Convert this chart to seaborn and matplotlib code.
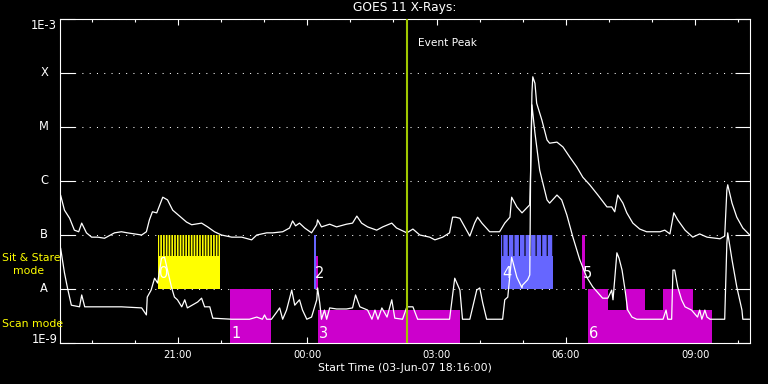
import numpy as np
import pandas as pd
import seaborn as sns
from matplotlib import pyplot as plt
from matplotlib.ticker import FixedLocator, NullLocator

# GOES 11 X-ray flux, hours after 00:00 on 03-Jun-07, log10(W/m^2)
long_t = [18.28, 18.37, 18.49, 18.60, 18.70, 18.77, 18.88, 19.00, 19.14, 19.30,
          19.53, 19.69, 19.83, 20.16, 20.27, 20.34, 20.41, 20.51, 20.65, 20.76,
          20.88, 21.04, 21.20, 21.32, 21.55, 21.69, 21.85, 22.01, 22.25, 22.48,
          22.71, 22.83, 23.06, 23.20, 23.43, 23.59, 23.66, 23.73, 23.82, 23.94,
          24.10, 24.22, 24.24, 24.33, 24.52, 24.68, 24.91, 25.05, 25.15, 25.26,
          25.40, 25.61, 25.75, 25.96, 26.07, 26.31, 26.45, 26.61, 26.84, 26.96,
          27.14, 27.30, 27.37, 27.44, 27.54, 27.77, 27.88, 27.95, 28.05, 28.23,
          28.46, 28.58, 28.70, 28.74, 28.86, 28.98, 29.16, 29.18, 29.21, 29.23,
          29.28, 29.32, 29.44, 29.56, 29.62, 29.79, 29.93, 30.09, 30.25, 30.39,
          30.55, 30.74, 30.95, 31.06, 31.13, 31.20, 31.32, 31.41, 31.55, 31.71,
          31.87, 32.18, 32.29, 32.41, 32.50, 32.59, 32.76, 32.94, 33.10, 33.27,
          33.57, 33.68, 33.73, 33.75, 33.85, 33.96, 34.10, 34.26]
long_log = [-6.26, -6.54, -6.69, -6.91, -6.94, -6.78, -6.96, -7.04, -7.04, -7.06,
            -6.96, -6.94, -6.96, -7.00, -6.94, -6.72, -6.57, -6.59, -6.30, -6.35,
            -6.54, -6.65, -6.76, -6.81, -6.78, -6.85, -6.94, -7.00, -7.04, -7.04,
            -7.09, -7.00, -6.96, -6.96, -6.94, -6.87, -6.74, -6.83, -6.78, -6.87,
            -6.96, -6.81, -6.72, -6.85, -6.80, -6.85, -6.80, -6.78, -6.65, -6.78,
            -6.85, -6.91, -6.85, -6.78, -6.87, -6.96, -6.89, -7.00, -7.04, -7.09,
            -7.04, -6.96, -6.67, -6.67, -6.69, -7.02, -6.78, -6.67, -6.78, -6.94,
            -6.94, -6.78, -6.67, -6.30, -6.48, -6.59, -6.44, -5.80, -4.37, -4.07,
            -4.19, -4.56, -4.87, -5.24, -5.30, -5.28, -5.37, -5.56, -5.74, -5.93,
            -6.07, -6.26, -6.48, -6.48, -6.57, -6.26, -6.41, -6.59, -6.78, -6.89,
            -6.94, -6.94, -6.91, -6.98, -6.59, -6.72, -6.91, -7.04, -6.98, -7.04,
            -7.07, -7.02, -6.17, -6.07, -6.41, -6.67, -6.87, -7.00]

short_t = [18.28, 18.37, 18.44, 18.53, 18.72, 18.77, 18.84, 19.30, 19.69, 20.16,
           20.27, 20.29, 20.38, 20.46, 20.53, 20.62, 20.69, 20.76, 20.85, 20.92,
           20.99, 21.09, 21.16, 21.22, 21.46, 21.55, 21.62, 21.74, 21.81, 22.25,
           22.66, 22.83, 22.96, 23.01, 23.06, 23.17, 23.29, 23.36, 23.43, 23.52,
           23.64, 23.71, 23.82, 23.89, 23.99, 24.10, 24.22, 24.24, 24.29, 24.33,
           24.40, 24.45, 24.52, 24.68, 24.91, 25.05, 25.12, 25.22, 25.40, 25.50,
           25.57, 25.64, 25.73, 25.85, 25.96, 26.03, 26.21, 26.31, 26.45, 26.56,
           27.30, 27.42, 27.54, 27.60, 27.77, 27.93, 28.00, 28.07, 28.16, 28.53,
           28.58, 28.65, 28.74, 28.86, 28.98, 28.99, 29.11, 29.16, 29.18, 29.21,
           29.28, 29.39, 29.56, 29.62, 29.79, 29.90, 30.02, 30.16, 30.32, 30.48,
           30.62, 30.74, 30.85, 30.97, 31.06, 31.09, 31.18, 31.23, 31.30, 31.37,
           31.43, 31.53, 31.64, 32.25, 32.32, 32.36, 32.45, 32.48, 32.52, 32.59,
           32.68, 32.76, 32.91, 33.05, 33.10, 33.15, 33.22, 33.27, 33.34, 33.68,
           33.73, 33.75, 33.85, 33.96, 34.08, 34.10, 34.22, 34.26]
short_log = [-7.24, -7.70, -7.98, -8.30, -8.33, -8.11, -8.33, -8.33, -8.33, -8.35,
             -8.48, -8.15, -8.02, -7.80, -7.89, -7.43, -7.41, -7.65, -7.96, -8.15,
             -8.20, -8.33, -8.20, -8.35, -8.24, -8.17, -8.33, -8.33, -8.54, -8.56,
             -8.56, -8.52, -8.56, -8.48, -8.56, -8.56, -8.43, -8.35, -8.56, -8.39,
             -8.02, -8.30, -8.20, -8.39, -8.56, -8.52, -8.20, -7.98, -8.26, -8.56,
             -8.39, -8.56, -8.35, -8.37, -8.37, -8.35, -8.11, -8.33, -8.39, -8.56,
             -8.39, -8.56, -8.35, -8.52, -8.20, -8.54, -8.56, -8.33, -8.33, -8.56,
             -8.56, -7.80, -8.02, -8.56, -8.56, -8.02, -7.98, -8.26, -8.56, -8.56,
             -8.20, -8.15, -7.41, -7.78, -7.98, -7.93, -7.83, -7.74, -5.80, -4.59,
             -5.11, -5.80, -6.35, -6.41, -6.26, -6.35, -6.63, -7.04, -7.46, -7.78,
             -7.96, -8.07, -8.17, -8.17, -8.02, -8.20, -7.33, -7.43, -7.65, -8.02,
             -8.39, -8.52, -8.56, -8.56, -8.39, -8.56, -8.56, -7.65, -7.65, -7.96,
             -8.20, -8.33, -8.39, -8.52, -8.39, -8.56, -8.39, -8.52, -8.56, -8.56,
             -7.15, -6.96, -7.46, -7.96, -8.39, -8.56, -8.56, -8.56]

# sit & stare pointings (upper band) and scan pointings (lower band)
ss_start = [20.54, 24.15, 24.21, 28.50, 30.36]
ss_end = [21.98, 24.20, 24.25, 29.69, 30.44]
ss_color = ["#ffff00", "#6666ff", "#cc00cc", "#6666ff", "#cc00cc"]
ss_fill = ["striped", "full", "lower", "striped", "full"]
ss_label = ["0", "2", "", "4", "5"]

sc_start = [22.22, 24.25, 30.51, 30.98, 31.39, 31.83, 32.25, 32.94]
sc_end = [23.17, 27.54, 30.98, 31.39, 31.83, 32.25, 32.94, 33.38]
sc_fill = ["full", "lower", "full", "lower", "full", "lower", "full", "lower"]
sc_label = ["1", "3", "6", "", "", "", "", ""]

peak_time = 26.32
t0, t1 = 18.2667, 34.2667
class_labels = ["1E-9", "A", "B", "C", "M", "X", "1E-3"]
decades = [-9, -8, -7, -6, -5, -4, -3]

sns.set_theme(style="ticks", rc={
    "figure.facecolor": "black", "axes.facecolor": "black",
    "axes.edgecolor": "white", "text.color": "white",
    "xtick.color": "white", "ytick.color": "white",
    "axes.labelcolor": "white", "hatch.linewidth": 0.8,
})
plt.rcParams["font.family"] = ["DejaVu Sans"]

fig = plt.figure(figsize=(7.68, 3.84), dpi=100)
ax = fig.add_axes([60 / 768, 41 / 384, 690 / 768, 324 / 384])

# pointing blocks
ss_lo, ss_mid, ss_hi = 1e-8, 10 ** -7.389, 1e-7
sc_lo, sc_mid, sc_hi = 1e-9, 10 ** -8.389, 1e-8
for s, e, c, f, lab in zip(ss_start, ss_end, ss_color, ss_fill, ss_label):
    top = ss_mid if f == "lower" else ss_hi
    if f == "striped":
        ax.bar(s, ss_mid - ss_lo, width=e - s, bottom=ss_lo, align="edge",
               color=c, linewidth=0)
        hatch = "|" * 6 if c == "#ffff00" else "|||"
        ax.bar(s, ss_hi - ss_mid, width=e - s, bottom=ss_mid, align="edge",
               color=c, edgecolor="black", hatch=hatch, linewidth=0)
    else:
        ax.bar(s, top - ss_lo, width=e - s, bottom=ss_lo, align="edge",
               color=c, linewidth=0)
    if lab:
        ax.text(s + 0.03, 10 ** -7.80, lab, fontsize=10.5, color="white",
                va="baseline", ha="left", zorder=5)

for s, e, f, lab in zip(sc_start, sc_end, sc_fill, sc_label):
    top = sc_mid if f == "lower" else sc_hi
    ax.bar(s, top - sc_lo, width=e - s, bottom=sc_lo, align="edge",
           color="#cc00cc", linewidth=0)
    if lab:
        ax.text(s + 0.03, 10 ** -8.907, lab, fontsize=10.5, color="white",
                va="baseline", ha="left", zorder=5)

# flux curves
df_long = pd.DataFrame({"t": long_t, "flux": 10.0 ** np.array(long_log)})
df_short = pd.DataFrame({"t": short_t, "flux": 10.0 ** np.array(short_log)})
sns.lineplot(data=df_long, x="t", y="flux", ax=ax, color="white",
             linewidth=0.9, estimator=None, sort=False)
sns.lineplot(data=df_short, x="t", y="flux", ax=ax, color="white",
             linewidth=0.9, estimator=None, sort=False)

ax.axvline(peak_time, color="#a0c800", linewidth=1.5, zorder=3)
ax.text(peak_time + 0.24, 0.926, "Event Peak", fontsize=7.6, color="white",
        va="center", ha="left", transform=ax.get_xaxis_transform())

ax.set_yscale("log")
ax.set_xlim(t0, t1)
ax.set_ylim(1e-9, 1e-3)
ax.set_xlabel("")
ax.set_ylabel("")

ax.set_yticks([10.0 ** d for d in decades])
ax.set_yticklabels([])
ax.yaxis.set_minor_locator(NullLocator())
ax.tick_params(axis="y", which="major", direction="in", length=10.8,
               width=0.8, left=True, right=True, labelleft=False)
ax.grid(axis="y", color="white", linestyle=(0, (1, 6)), linewidth=0.75)
ax.grid(axis="x", visible=False)

major_h = [21, 24, 27, 30, 33]
ax.xaxis.set_major_locator(FixedLocator(major_h))
ax.xaxis.set_minor_locator(FixedLocator(list(range(19, 35))))
ax.set_xticklabels([f"{h % 24:02d}:00" for h in major_h], fontsize=7.2)
ax.tick_params(axis="x", which="major", direction="in", length=4.3,
               width=0.8, top=True, bottom=True, pad=4.7)
ax.tick_params(axis="x", which="minor", direction="in", length=2.2,
               width=0.8, top=True, bottom=True)
for sp in ax.spines.values():
    sp.set_color("white")
    sp.set_linewidth(0.8)

ytr = ax.get_yaxis_transform()
for d, lab in zip(decades, class_labels):
    if lab.startswith("1E"):
        ax.text(-0.004, 10.0 ** d, lab, transform=ytr, fontsize=8.3,
                ha="right", va="top" if d == -3 else "baseline")
    else:
        ax.text(-0.023, 10.0 ** d, lab, transform=ytr, fontsize=8.3,
                ha="center", va="center")

fig.text(2 / 768, 1 - 258 / 384, "Sit & Stare", color="#ffff00",
         fontsize=7.8, ha="left", va="center")
fig.text(13 / 768, 1 - 271 / 384, "mode", color="#ffff00",
         fontsize=7.8, ha="left", va="center")
fig.text(2 / 768, 1 - 324 / 384, "Scan mode", color="#ffff00",
         fontsize=7.8, ha="left", va="center")

fig.text(405 / 768, 1 - 8 / 384, "GOES 11 X-Rays:", fontsize=8.8,
         ha="center", va="center")
fig.text(405 / 768, 1 - 368 / 384, "Start Time (03-Jun-07 18:16:00)",
         fontsize=7.8, ha="center", va="center")

fig.savefig("out.png", dpi=100, facecolor="black")
